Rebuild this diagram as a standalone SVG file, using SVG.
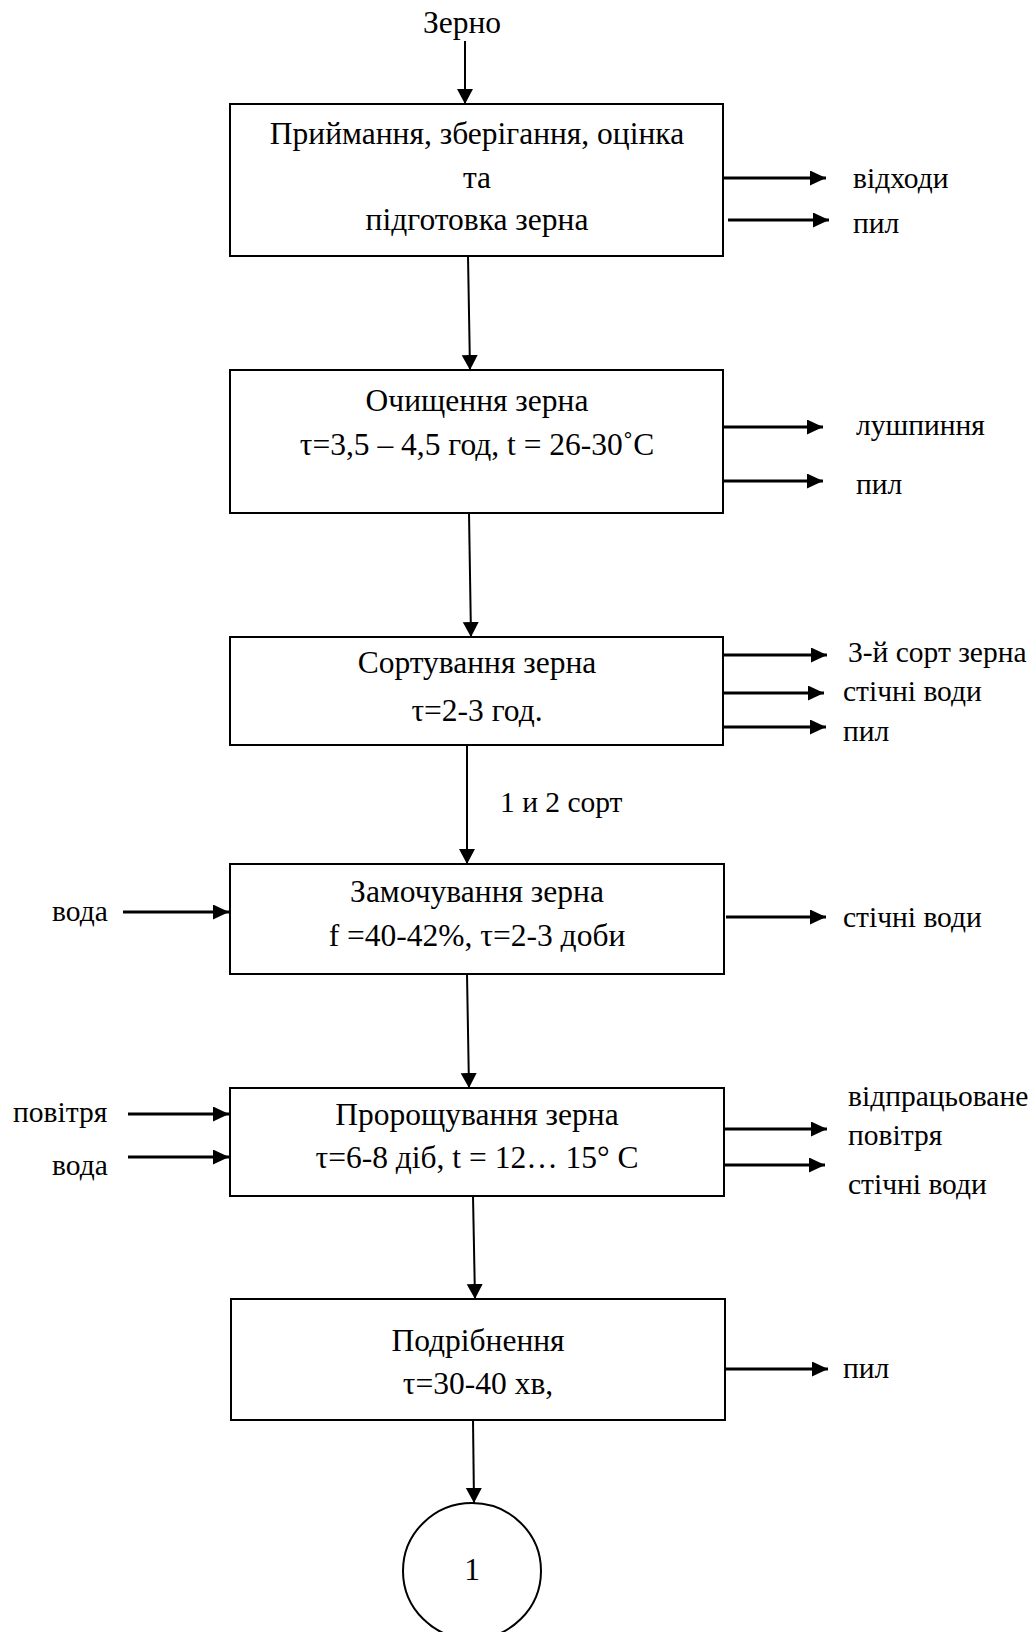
<svg xmlns="http://www.w3.org/2000/svg" width="1036" height="1632" viewBox="0 0 1036 1632">
<style>
text{font-family:"Liberation Serif","Times New Roman",serif;font-size:31.5px;fill:#000}
text.l{font-size:29.5px}
.c{text-anchor:middle}
.box{fill:#fff;stroke:#000;stroke-width:2}
.side{stroke:#000;stroke-width:3;fill:none;marker-end:url(#ah)}
.down{stroke:#000;stroke-width:2;fill:none;marker-end:url(#av)}
</style>
<defs>
<marker id="ah" markerUnits="userSpaceOnUse" markerWidth="17" markerHeight="16" refX="16" refY="7.5" orient="auto"><path d="M0,0 L16,7.5 L0,15 z" fill="#000"/></marker>
<marker id="av" markerUnits="userSpaceOnUse" markerWidth="16" markerHeight="18" refX="15" refY="8" orient="auto"><path d="M0,0 L15,8 L0,16 z" fill="#000"/></marker>
</defs>
<rect width="1036" height="1632" fill="#fff"/>
<g id="connectors">
<line class="down" x1="465" y1="41" x2="465" y2="104"/>
<line class="down" x1="468" y1="256" x2="470" y2="370"/>
<line class="down" x1="469" y1="513" x2="471" y2="637"/>
<line class="down" x1="467" y1="745" x2="467" y2="864"/>
<line class="down" x1="467" y1="974" x2="469" y2="1088"/>
<line class="down" x1="473" y1="1196" x2="475" y2="1299"/>
<line class="down" x1="473" y1="1420" x2="474" y2="1503"/>
<line class="side" x1="724" y1="178" x2="826" y2="178"/>
<line class="side" x1="728" y1="220" x2="829" y2="220"/>
<line class="side" x1="724" y1="427" x2="823" y2="427"/>
<line class="side" x1="724" y1="481" x2="823" y2="481"/>
<line class="side" x1="724" y1="655" x2="827" y2="655"/>
<line class="side" x1="724" y1="693" x2="824" y2="693"/>
<line class="side" x1="724" y1="727" x2="826" y2="727"/>
<line class="side" x1="123" y1="912" x2="229" y2="912"/>
<line class="side" x1="726" y1="917" x2="826" y2="917"/>
<line class="side" x1="128" y1="1114" x2="229" y2="1114"/>
<line class="side" x1="128" y1="1157" x2="229" y2="1157"/>
<line class="side" x1="724" y1="1129" x2="827" y2="1129"/>
<line class="side" x1="724" y1="1165" x2="825" y2="1165"/>
<line class="side" x1="726" y1="1369" x2="828" y2="1369"/>
</g>
<g id="input">
<text class="c" x="462" y="33">Зерно</text>
</g>
<g id="node1">
<rect class="box" x="230" y="104" width="493" height="152"/>
<text class="c" x="477" y="144">Приймання, зберігання, оцінка</text>
<text class="c" x="477" y="188">та</text>
<text class="c" x="477" y="230">підготовка зерна</text>
<text class="l" x="853" y="188">відходи</text>
<text class="l" x="853" y="233">пил</text>
</g>
<g id="node2">
<rect class="box" x="230" y="370" width="493" height="143"/>
<text class="c" x="477" y="411">Очищення зерна</text>
<text class="c" x="477" y="455">τ=3,5 – 4,5 год, t = 26-30˚C</text>
<text class="l" x="856" y="435">лушпиння</text>
<text class="l" x="856" y="494">пил</text>
</g>
<g id="node3">
<rect class="box" x="230" y="637" width="493" height="108"/>
<text class="c" x="477" y="673">Сортування зерна</text>
<text class="c" x="477" y="721">τ=2-3 год.</text>
<text class="l" x="848" y="662">3-й сорт зерна</text>
<text class="l" x="843" y="701">стічні води</text>
<text class="l" x="843" y="741">пил</text>
<text class="l" x="500" y="812">1 и 2 сорт</text>
</g>
<g id="node4">
<rect class="box" x="230" y="864" width="494" height="110"/>
<text class="c" x="477" y="902">Замочування зерна</text>
<text class="c" x="477" y="946">f =40-42%, τ=2-3 доби</text>
<text class="l" x="52" y="921">вода</text>
<text class="l" x="843" y="927">стічні води</text>
</g>
<g id="node5">
<rect class="box" x="230" y="1088" width="494" height="108"/>
<text class="c" x="477" y="1125">Пророщування зерна</text>
<text class="c" x="477" y="1168">τ=6-8 діб, t = 12… 15° C</text>
<text class="l" x="13" y="1122">повітря</text>
<text class="l" x="52" y="1175">вода</text>
<text class="l" x="848" y="1106">відпрацьоване</text>
<text class="l" x="848" y="1145">повітря</text>
<text class="l" x="848" y="1194">стічні води</text>
</g>
<g id="node6">
<rect class="box" x="231" y="1299" width="494" height="121"/>
<text class="c" x="478" y="1351">Подрібнення</text>
<text class="c" x="478" y="1394">τ=30-40 хв,</text>
<text class="l" x="843" y="1378">пил</text>
</g>
<g id="node7">
<ellipse cx="472" cy="1571" rx="69" ry="68" fill="#fff" stroke="#000" stroke-width="2"/>
<text class="c" x="472" y="1580">1</text>
</g>
</svg>
